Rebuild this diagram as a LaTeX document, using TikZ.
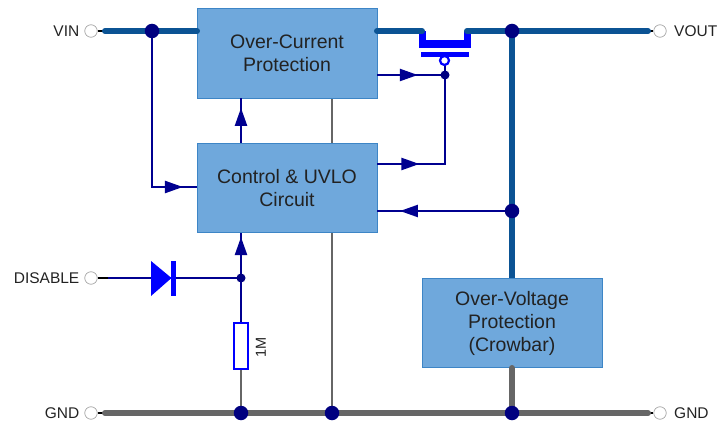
\documentclass[tikz,border=0pt]{standalone}
\usepackage{fontspec}
\setmainfont{Liberation Sans}
\usetikzlibrary{arrows.meta,decorations.markings}
\definecolor{boxfill}{HTML}{6FA8DC}
\definecolor{boxline}{HTML}{3D85C6}
\definecolor{power}{HTML}{0B5394}
\definecolor{sig}{HTML}{000090}
\definecolor{dot}{HTML}{000080}
\definecolor{part}{HTML}{0000FF}
\definecolor{gnd}{HTML}{666666}
\definecolor{txt}{HTML}{222222}
\tikzset{
  x=1pt,y=-1pt,
  block/.style={draw=boxline,line width=0.8pt,fill=boxfill,minimum width=180pt,minimum height=89.5pt,inner sep=0pt,align=center,font=\fontsize{19.5}{23}\selectfont,text=txt},
  term/.style={circle,draw=gray!70,fill=white,line width=0.7pt,minimum size=12.5pt,inner sep=0pt},
  lab/.style={font=\fontsize{15.5}{18}\selectfont,text=txt,inner sep=0pt},
  junction/.style={circle,fill=dot,inner sep=0pt},
  bigdot/.style={junction,minimum size=14.5pt},
  smalldot/.style={junction,minimum size=9pt},
  powerwire/.style={draw=power,line width=6pt,line cap=round},
  gndwire/.style={draw=gnd,line width=6pt,line cap=round},
  thinwire/.style={draw=gnd,line width=2.2pt},
  sigwire/.style={draw=sig,line width=2.3pt},
  stub/.style={draw=black,line width=2pt},
  arrowat/.style={postaction={decorate,decoration={markings,mark=at position #1 with {\arrow{Triangle[length=18pt,width=12pt]}}}}},
}
\begin{document}
\begin{tikzpicture}
\useasboundingbox (0,0) rectangle (718,425);
% terminals
\node[term] (vin) at (91,31) {};
\node[term] (dis) at (91,278) {};
\node[term] (gl) at (91,413) {};
\node[term] (vout) at (660,31) {};
\node[term] (gr) at (660,413) {};
\node[lab,anchor=east] at (79.5,31) {VIN};
\node[lab,anchor=east] at (79.5,278) {DISABLE};
\node[lab,anchor=east] at (79.5,413) {GND};
\node[lab,anchor=west] at (674,31) {VOUT};
\node[lab,anchor=west] at (674,413) {GND};
% named points
\coordinate (jvin) at (152,31);
\coordinate (jout) at (512,31);
\coordinate (jfb) at (512,211);
\coordinate (jg) at (445,75);
\coordinate (jd) at (241,278);
\coordinate (jr) at (241,413);
\coordinate (jm) at (332,413);
\coordinate (jc) at (512,413);
\coordinate (fl) at (422,31);
\coordinate (fr) at (467,31);
\coordinate (vinL) at (105,31);
\coordinate (voutR) at (648,31);
\coordinate (gL) at (105,413);
\coordinate (gR) at (648,413);
\coordinate (inl) at (197,31);
\coordinate (outl) at (377,31);
\coordinate (ctlin) at (197,187);
\coordinate (corner) at (152,187);
\coordinate (ctlout) at (377,164);
\coordinate (corner2) at (445,164);
\coordinate (ocpout) at (377,75);
\coordinate (ctlfb) at (377,211);
\coordinate (a1) at (241,143);
\coordinate (a2) at (241,98);
\coordinate (a3) at (241,233);
\coordinate (m1) at (332,98);
\coordinate (m2) at (332,143);
\coordinate (m3) at (332,233);
\coordinate (ovt) at (512,278);
\coordinate (ovb) at (512,368);
% grey mid wire (behind boxes)
\draw[thinwire] (m1) -- (m2);
\draw[thinwire] (m3) -- (jm);
% blocks
\node[block] (ocp) at (287,53.5) {Over-Current\\Protection};
\node[block] (ctl) at (287,188) {Control \& UVLO\\Circuit};
\node[block] (ovp) at (512,323) {\raisebox{-2pt}{\parbox{170pt}{\centering Over-Voltage\\Protection\\(Crowbar)}}};
% stubs
\draw[stub] (vin) -- (vinL);
\draw[stub] (dis) -- (108,278);
\draw[stub] (gl) -- (gL);
\draw[stub] (vout) -- (voutR);
\draw[stub] (gr) -- (gR);
% MOSFET
\fill[part] (419,31) rectangle (426,48);
\fill[part] (464,31) rectangle (471,48);
\fill[part] (419,40.5) rectangle (471,48);
\fill[part] (421,52) rectangle (469,57);
% power
\draw[powerwire] (vinL) -- (inl);
\draw[powerwire] (outl) -- (fl);
\draw[powerwire] (fr) -- (voutR);
\draw[powerwire,line cap=butt] (jout) -- (ovt);
% ground
\draw[gndwire] (gL) -- (gR);
\draw[gndwire] (ovb) -- (jc);
\draw[thinwire] (241,369) -- (jr);
% signals
\draw[sigwire,arrowat=0.93] (jvin) -- (corner) -- (ctlin);
\draw[sigwire,arrowat=0.6] (ocpout) -- (jg);
\draw[sigwire,arrowat=0.27] (ctlout) -- (corner2) -- (jg);
\draw[sigwire,arrowat=0.83] (jfb) -- (ctlfb);
\draw[sigwire,arrowat=0.78] (a1) -- (a2);
\draw[sigwire,arrowat=0.91] (jd) -- (a3);
\draw[sigwire] (108,278) -- (jd);
\draw[sigwire] (jd) -- (241,323);
\draw[sigwire] (jg) -- (445,65);
\node[circle,draw=part,fill=white,line width=2.2pt,minimum size=9pt,inner sep=0pt] (bubble) at (444.5,60.5) {};
% diode
\fill[part] (151,261) -- (171.5,278) -- (151,296) -- cycle;
\fill[part] (171,261) rectangle (176,296);
% resistor
\node[draw=part,fill=white,line width=2pt,minimum width=14pt,minimum height=46pt,inner sep=0pt] (res) at (241,345.5) {};
\node[lab,rotate=90,font=\fontsize{14.5}{16}\selectfont] at (261,347) {1M};
% junctions
\foreach \p in {jvin,jout,jfb,jr,jm,jc} \node[bigdot] at (\p) {};
\foreach \p in {jg,jd} \node[smalldot] at (\p) {};
\end{tikzpicture}
\end{document}
